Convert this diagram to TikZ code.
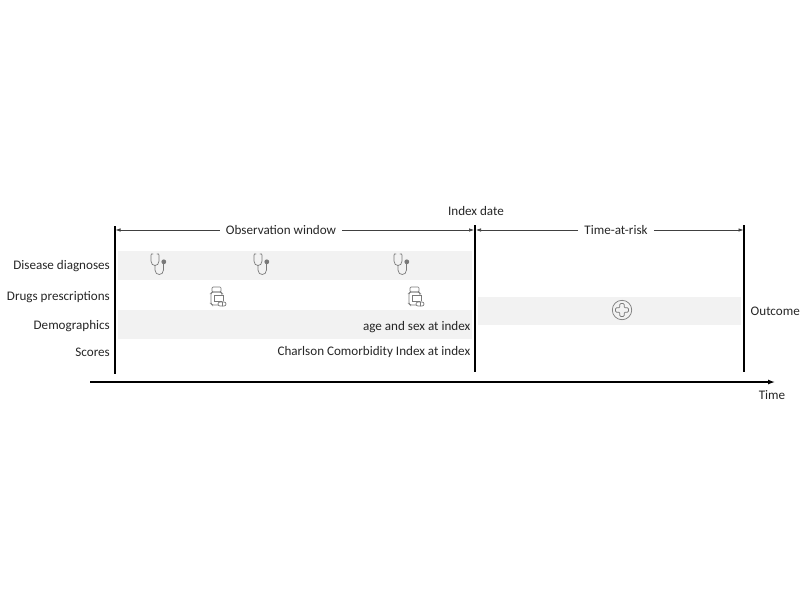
\documentclass[tikz,border=0pt]{standalone}
\usepackage{fontspec}
\setmainfont{Carlito}
\usetikzlibrary{positioning,calc,arrows.meta}
\definecolor{bandgray}{HTML}{F2F2F2}
\definecolor{icongray}{HTML}{7A7A7A}

\begin{document}
\begin{tikzpicture}[x=1pt,y=-1pt]
        \tikzset{
            label text/.style={font=\fontsize{13.1}{15}\selectfont,text=black!85,inner sep=0pt},
            row label/.style={label text,anchor=east},
            band/.style={fill=bandgray,draw=none},
            marker line/.style={line width=1.05pt,black},
            span arrow/.style={line width=0.6pt,black!75,-{Latex[length=5pt,width=3.5pt]}},
            time arrow/.style={line width=1.3pt,black,-{Latex[length=7pt,width=5pt]}},
            icon line/.style={line width=0.7pt,icongray,line cap=round},
            stetho/.pic={
                \draw[icon line] (2,0) -- (0.4,0) -- (0,1.5) -- (0,7) .. controls (0,13) and (8,13) .. (8,7) -- (8,1.5) -- (7.6,0) -- (6,0);
                \draw[icon line] (4,11.5) -- (4,16) .. controls (4,22) and (12.5,22) .. (12.5,16) -- (12.5,10);
                \fill[icongray] (12.8,7.8) circle[radius=2.4];
            },
            bottle/.pic={
                \draw[icon line,rounded corners=1pt] (1,0) rectangle (10,5);
                \draw[icon line,rounded corners=1.5pt] (7,18) -- (1,18) -- (0,17) -- (0,6) -- (1,5) -- (10,5) -- (11,6) -- (11,8);
                \draw[icon line] (11,14) -- (3,14) -- (3,8) -- (12,8) -- (12,14);
                \draw[icon line,rounded corners=2pt,fill=white] (7,15) rectangle (15,19);
                \draw[icon line] (11,15) -- (11,19);
            }
        };
        % page size
        \useasboundingbox (0,0) rectangle (800,600);

        % grey rows
        \fill[band] (118,251) rectangle (472,280);
        \fill[band] (118,310) rectangle (472,339);
        \fill[band] (478,297) rectangle (741,325);

        % vertical markers
        \coordinate (startTop) at (115,226);
        \coordinate (startBottom) at (115,374);
        \coordinate (indexTop) at (475,225);
        \coordinate (indexBottom) at (475,372);
        \coordinate (outcomeTop) at (744,225);
        \coordinate (outcomeBottom) at (744,372);
        \draw[marker line] (startTop) -- (startBottom);
        \draw[marker line] (indexTop) -- (indexBottom);
        \draw[marker line] (outcomeTop) -- (outcomeBottom);

        % top labels
        \node[label text] (indexdate) at (476,211) {Index date};
        \node[label text] (obswindow) at (281,230) {Observation window};
        \node[label text] (timerisk) at (616,230) {Time-at-risk};

        % span arrows
        \coordinate (startArrow) at (115.5,230);
        \coordinate (indexArrowL) at (474,230);
        \coordinate (indexArrowR) at (476,230);
        \coordinate (outcomeArrow) at (743.5,230);
        \draw[span arrow] ([xshift=-6pt]obswindow.west) -- (startArrow);
        \draw[span arrow] ([xshift=6pt]obswindow.east) -- (indexArrowL);
        \draw[span arrow] ([xshift=-6pt]timerisk.west) -- (indexArrowR);
        \draw[span arrow] ([xshift=6pt]timerisk.east) -- (outcomeArrow);

        % row labels
        \node[row label] (diseases) at (110,266.5) {Disease diagnoses};
        \node[row label] (drugs) at (110,297.5) {Drugs prescriptions};
        \node[row label] (demo) at (110,326) {Demographics};
        \node[row label] (scores) at (110,352) {Scores};
        \node[row label] (ageSex) at (470.5,327) {age and sex at index};
        \node[row label] (charlson) at (470.5,352) {Charlson Comorbidity Index at index};

        % icons
        \foreach \xpos in {151,254,394}
            \pic at (\xpos,254) {stetho};
        \foreach \xpos in {211,409}
            \pic at (\xpos,287) {bottle};
        \draw[icon line] (622,310) circle[radius=9.7];
        \draw[icon line,rounded corners=1pt] (619.8,303.5) -- (624.2,303.5) -- (624.2,307.8) -- (628.5,307.8) -- (628.5,312.2) -- (624.2,312.2) -- (624.2,316.5) -- (619.8,316.5) -- (619.8,312.2) -- (615.5,312.2) -- (615.5,307.8) -- (619.8,307.8) -- cycle;

        % right side
        \node[label text,anchor=west] (outcome) at (750.5,311) {Outcome};
        \coordinate (axisStart) at (90,382);
        \coordinate (axisEnd) at (775,382);
        \draw[time arrow] (axisStart) -- (axisEnd);
        \node[label text] (timelabel) at (772,395) {Time};
    \end{tikzpicture}
\end{document}
